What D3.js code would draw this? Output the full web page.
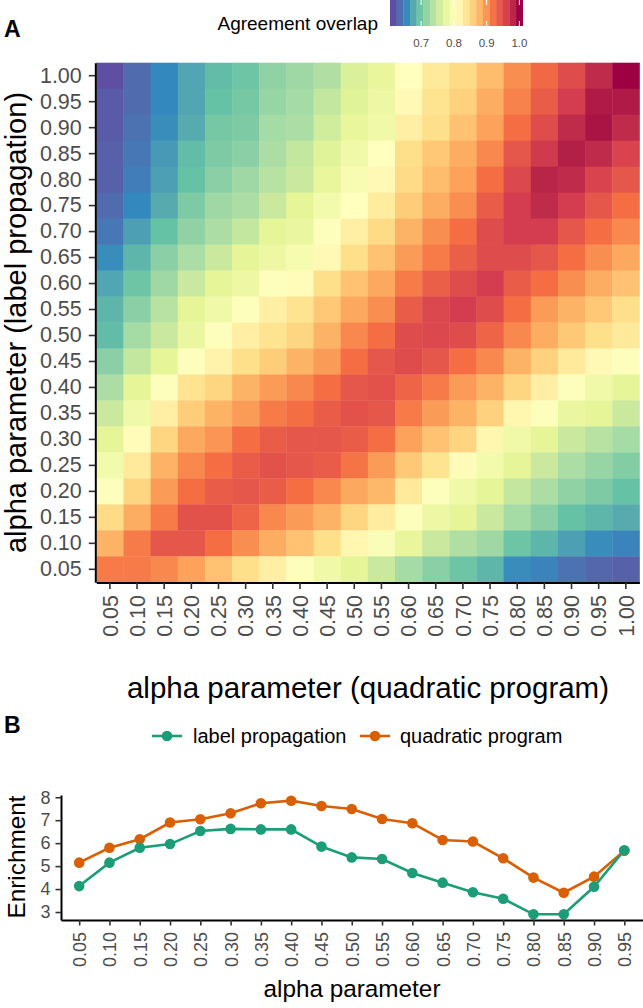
<!DOCTYPE html>
<html>
<head>
<meta charset="utf-8">
<title>Agreement overlap and enrichment</title>
<script src="https://cdnjs.cloudflare.com/ajax/libs/d3/7.8.5/d3.min.js"></script>
<style>
  body { margin: 0; background: #fff; }
  svg { display: block; font-family: "Liberation Sans", Arial, sans-serif; }
  .tick text { fill: #4d4d4d; }
  .tick line { stroke: #333; stroke-width: 1.6; }
  .domain { stroke: #000; stroke-width: 2; }
</style>
</head>
<body>
<svg id="chart" width="643" height="1008"></svg>
<script>
// alpha grid shared by both panels
const alphaLabels = ["0.05","0.10","0.15","0.20","0.25","0.30","0.35","0.40","0.45","0.50",
                     "0.55","0.60","0.65","0.70","0.75","0.80","0.85","0.90","0.95","1.00"];
// heatmap rows listed top to bottom (label propagation alpha 1.00 -> 0.05)
const lpRows = alphaLabels.slice().reverse();
// columns: quadratic program alpha 0.05 -> 1.00
const overlap = [
  [0.615,0.634,0.654,0.673,0.688,0.696,0.715,0.723,0.734,0.761,0.773,0.808,0.834,0.850,0.873,0.904,0.927,0.950,0.977,1.000],
  [0.623,0.634,0.654,0.673,0.692,0.700,0.719,0.727,0.746,0.765,0.781,0.815,0.842,0.858,0.885,0.911,0.938,0.962,0.988,0.988],
  [0.623,0.638,0.657,0.677,0.700,0.704,0.727,0.731,0.754,0.773,0.784,0.827,0.846,0.869,0.892,0.923,0.950,0.977,0.992,0.977],
  [0.627,0.642,0.665,0.688,0.704,0.711,0.731,0.746,0.765,0.784,0.808,0.846,0.865,0.885,0.908,0.942,0.965,0.985,0.977,0.958],
  [0.627,0.646,0.669,0.692,0.711,0.723,0.738,0.750,0.773,0.796,0.815,0.850,0.873,0.892,0.923,0.954,0.981,0.977,0.958,0.942],
  [0.634,0.654,0.677,0.704,0.723,0.731,0.750,0.769,0.788,0.808,0.831,0.861,0.885,0.904,0.938,0.962,0.977,0.962,0.942,0.923],
  [0.642,0.669,0.692,0.715,0.731,0.746,0.769,0.777,0.804,0.827,0.850,0.881,0.904,0.923,0.950,0.962,0.962,0.942,0.923,0.908],
  [0.657,0.684,0.711,0.731,0.750,0.769,0.781,0.792,0.815,0.846,0.869,0.896,0.915,0.935,0.950,0.950,0.942,0.923,0.904,0.888],
  [0.673,0.696,0.723,0.750,0.769,0.781,0.804,0.811,0.846,0.869,0.888,0.915,0.935,0.950,0.962,0.938,0.923,0.904,0.885,0.869],
  [0.684,0.711,0.738,0.769,0.784,0.804,0.827,0.842,0.865,0.888,0.904,0.938,0.954,0.962,0.950,0.923,0.896,0.881,0.865,0.846],
  [0.688,0.727,0.750,0.777,0.804,0.827,0.842,0.854,0.881,0.908,0.923,0.950,0.954,0.950,0.931,0.908,0.885,0.865,0.846,0.834],
  [0.711,0.746,0.769,0.804,0.823,0.846,0.861,0.881,0.896,0.923,0.942,0.950,0.942,0.923,0.908,0.881,0.858,0.834,0.815,0.804],
  [0.731,0.769,0.804,0.842,0.854,0.881,0.896,0.908,0.923,0.942,0.946,0.931,0.915,0.896,0.881,0.854,0.827,0.804,0.784,0.769],
  [0.750,0.784,0.827,0.861,0.881,0.896,0.915,0.923,0.938,0.946,0.942,0.915,0.896,0.881,0.858,0.819,0.804,0.777,0.769,0.750],
  [0.769,0.811,0.854,0.888,0.900,0.923,0.938,0.942,0.942,0.938,0.923,0.892,0.869,0.854,0.819,0.784,0.769,0.750,0.738,0.727],
  [0.788,0.834,0.881,0.908,0.923,0.938,0.946,0.942,0.938,0.919,0.896,0.865,0.842,0.811,0.788,0.769,0.750,0.731,0.719,0.707],
  [0.804,0.854,0.896,0.923,0.938,0.942,0.938,0.923,0.908,0.888,0.877,0.834,0.804,0.784,0.769,0.746,0.731,0.715,0.704,0.692],
  [0.850,0.885,0.915,0.946,0.946,0.931,0.908,0.896,0.881,0.854,0.831,0.804,0.781,0.769,0.750,0.727,0.711,0.692,0.684,0.677],
  [0.881,0.915,0.942,0.942,0.923,0.904,0.885,0.869,0.846,0.819,0.800,0.773,0.750,0.734,0.723,0.696,0.684,0.669,0.657,0.650],
  [0.915,0.915,0.908,0.892,0.869,0.846,0.827,0.804,0.784,0.769,0.750,0.727,0.711,0.696,0.684,0.657,0.650,0.638,0.630,0.627]
];
const legendBreaks = [0.7, 0.8, 0.9, 1.0];

// panel B
const enrichAlpha = alphaLabels.slice(0, 19);
const lpEnrichment = [4.13,5.15,5.80,5.96,6.53,6.62,6.60,6.60,5.85,5.38,5.31,4.70,4.28,3.86,3.58,2.90,2.90,4.10,5.69];
const qpEnrichment = [5.15,5.80,6.17,6.90,7.04,7.30,7.74,7.85,7.62,7.49,7.05,6.87,6.14,6.07,5.34,4.50,3.84,4.54,5.67];
const seriesNames = ["label propagation", "quadratic program"];
const seriesColors = ["#1b9e77", "#d95f02"];
const enrichTicks = [3, 4, 5, 6, 7, 8];

const spectral = ["#5e4fa2","#3288bd","#66c2a5","#abdda4","#e6f598","#ffffbf",
                  "#fee08b","#fdae61","#f46d43","#d53e4f","#9e0142"];

const svg = d3.select("#chart");

// ---------- panel A: heatmap ----------
const cells = [];
overlap.forEach((row, i) => row.forEach((v, j) => cells.push({ lp: lpRows[i], qp: alphaLabels[j], v: v })));

const ext = d3.extent(cells, d => d.v);
const color = d3.scaleLinear()
  .domain(spectral.map((c, i) => ext[0] + i * (ext[1] - ext[0]) / (spectral.length - 1)))
  .range(spectral)
  .interpolate(d3.interpolateLab);

const x = d3.scaleBand().domain(alphaLabels).range([96.3, 639.4]);
const y = d3.scaleBand().domain(lpRows).range([62.7, 582.3]);

svg.append("g").selectAll("rect")
  .data(cells)
  .join("rect")
  .attr("x", d => x(d.qp))
  .attr("y", d => y(d.lp))
  .attr("width", x.bandwidth() + 0.4)
  .attr("height", y.bandwidth() + 0.4)
  .attr("fill", d => color(d.v));

const yAxisA = svg.append("g")
  .attr("transform", "translate(95.3,0)")
  .call(d3.axisLeft(y).tickSize(6.5).tickSizeOuter(0).tickPadding(7));
yAxisA.selectAll("text").style("font-size", "21.5px");

const xAxisA = svg.append("g")
  .attr("transform", "translate(0,582.5)")
  .call(d3.axisBottom(x).tickSize(6.5).tickSizeOuter(0));
xAxisA.selectAll("text")
  .style("font-size", "21.5px")
  .attr("transform", "rotate(-90)")
  .attr("text-anchor", "end")
  .attr("x", -12.5)
  .attr("y", 0)
  .attr("dy", "0.36em");

svg.append("text")
  .attr("x", 368).attr("y", 698)
  .attr("text-anchor", "middle")
  .style("font-size", "29.5px")
  .text("alpha parameter (quadratic program)");

svg.append("text")
  .attr("transform", "translate(26,322.5) rotate(-90)")
  .attr("text-anchor", "middle")
  .style("font-size", "29px")
  .text("alpha parameter (label propagation)");

svg.append("text")
  .attr("x", 4).attr("y", 37)
  .style("font-size", "23px").style("font-weight", "bold")
  .text("A");

// colour bar legend
const nbin = 20, barX0 = 390, barX1 = 522.7, barH = 26;
const binW = (barX1 - barX0) / nbin;
const barScale = d3.scaleLinear().domain(ext).range([barX0 + binW / 2, barX1 - binW / 2]);
const legend = svg.append("g");
legend.selectAll("rect")
  .data(d3.range(nbin))
  .join("rect")
  .attr("x", i => barX0 + i * binW)
  .attr("y", 0)
  .attr("width", binW + 0.3)
  .attr("height", barH)
  .attr("fill", i => color(ext[0] + i * (ext[1] - ext[0]) / (nbin - 1)));
legendBreaks.forEach(b => {
  const bx = barScale(b);
  legend.append("line").attr("x1", bx).attr("x2", bx).attr("y1", 0).attr("y2", 5)
    .attr("stroke", "#fff").attr("stroke-width", 1);
  legend.append("line").attr("x1", bx).attr("x2", bx).attr("y1", barH - 5).attr("y2", barH)
    .attr("stroke", "#fff").attr("stroke-width", 1);
  legend.append("text").attr("x", bx).attr("y", 46.5)
    .attr("text-anchor", "middle").style("font-size", "11.5px").attr("fill", "#4d4d4d")
    .text(b.toFixed(1));
});
svg.append("text")
  .attr("x", 378).attr("y", 30)
  .attr("text-anchor", "end")
  .style("font-size", "19px")
  .text("Agreement overlap");

// ---------- panel B: enrichment lines ----------
const xb = d3.scalePoint().domain(enrichAlpha).range([61, 642.5]).padding(0.6);
const yExt = d3.extent(lpEnrichment.concat(qpEnrichment));
const pad = (yExt[1] - yExt[0]) * 0.05;
const yb = d3.scaleLinear().domain([yExt[0] - pad, yExt[1] + pad]).range([920, 795]);

const series = [lpEnrichment, qpEnrichment];
const line = d3.line().x((d, i) => xb(enrichAlpha[i])).y(d => yb(d));

[1, 0].forEach(k => {
  svg.append("path")
    .attr("d", line(series[k]))
    .attr("fill", "none")
    .attr("stroke", seriesColors[k])
    .attr("stroke-width", 2.6);
});
[1, 0].forEach(k => {
  svg.append("g").selectAll("circle")
    .data(series[k])
    .join("circle")
    .attr("cx", (d, i) => xb(enrichAlpha[i]))
    .attr("cy", d => yb(d))
    .attr("r", 5.3)
    .attr("fill", seriesColors[k]);
});

const yAxisB = svg.append("g")
  .attr("transform", "translate(61,0)")
  .call(d3.axisLeft(yb).tickValues(enrichTicks).tickFormat(d3.format("d")).tickSize(5.5).tickSizeOuter(0).tickPadding(5));
yAxisB.selectAll("text").style("font-size", "18px");

const xAxisB = svg.append("g")
  .attr("transform", "translate(0,920)")
  .call(d3.axisBottom(xb).tickSize(5.5).tickSizeOuter(0));
xAxisB.selectAll("text")
  .style("font-size", "18px")
  .attr("transform", "rotate(-90)")
  .attr("text-anchor", "end")
  .attr("x", -12)
  .attr("y", 0)
  .attr("dy", "0.36em");

svg.append("text")
  .attr("x", 352).attr("y", 997)
  .attr("text-anchor", "middle")
  .style("font-size", "24.3px")
  .text("alpha parameter");

svg.append("text")
  .attr("transform", "translate(25,857) rotate(-90)")
  .attr("text-anchor", "middle")
  .style("font-size", "24.3px")
  .text("Enrichment");

svg.append("text")
  .attr("x", 4).attr("y", 733)
  .style("font-size", "23px").style("font-weight", "bold")
  .text("B");

// legend for panel B
const keyX = [167, 375], textX = [193, 400], keyY = 736;
seriesNames.forEach((name, k) => {
  svg.append("line")
    .attr("x1", keyX[k] - 15).attr("x2", keyX[k] + 15)
    .attr("y1", keyY).attr("y2", keyY)
    .attr("stroke", seriesColors[k]).attr("stroke-width", 2.6);
  svg.append("circle").attr("cx", keyX[k]).attr("cy", keyY).attr("r", 5.3).attr("fill", seriesColors[k]);
  svg.append("text").attr("x", textX[k]).attr("y", keyY + 7)
    .style("font-size", "20px").text(name);
});
</script>
</body>
</html>
